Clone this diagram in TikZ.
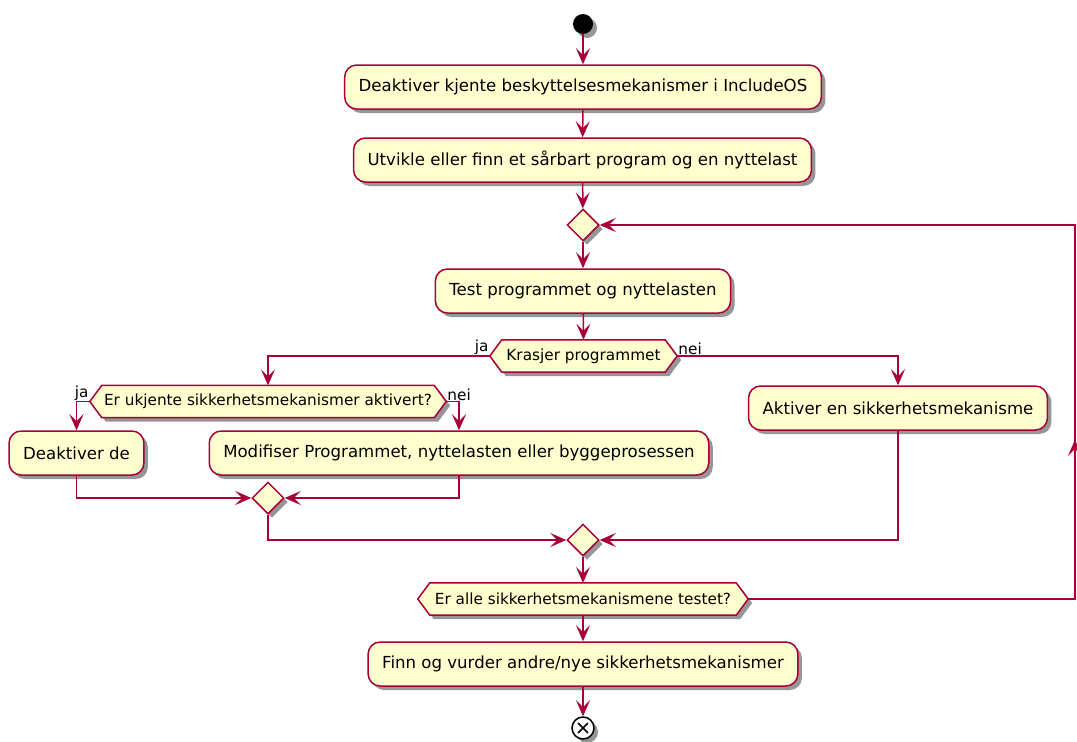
\documentclass[tikz,border=0pt]{standalone}
\usepackage{fontspec}
\setmainfont{DejaVu Sans}
\usetikzlibrary{arrows.meta,shapes.geometric,shadows,calc,decorations.markings}
\definecolor{umlfill}{HTML}{FEFECE}
\definecolor{umlline}{HTML}{A80036}
\pgfdeclarelayer{bg}
\pgfsetlayers{bg,main}

\tikzset{
  x=1pt, y=-1pt,
  shade/.style={drop shadow={shadow xshift=4pt, shadow yshift=-4pt, opacity=0.55, fill=black!75}},
  tipstyle/.style={-{Stealth[length=16pt, width=14pt, inset=7pt]}},
  flow/.style={draw=umlline, line width=1.5pt},
  arr/.style={flow, tipstyle},
  actbox/.style={draw=umlline, line width=1.5pt, fill=umlfill, rounded corners=12pt,
    minimum height=44pt, inner xsep=14pt, font=\fontsize{16.6}{20}\selectfont, shade},
  hextext/.style={inner sep=0pt, minimum height=32pt, font=\fontsize{15.3}{18}\selectfont},
  hexline/.style={draw=umlline, line width=1.5pt, fill=umlfill, shade},
  merge/.style={diamond, draw=umlline, line width=1.5pt, fill=umlfill, inner sep=0pt,
    minimum width=32pt, minimum height=32pt, shade},
  lbl/.style={inner sep=1pt, font=\fontsize{15.3}{18}\selectfont},
}

\begin{document}
\begin{tikzpicture}
\useasboundingbox (0,0) rectangle (1077,742);

% start and end markers
\node[circle, fill=black, minimum size=20pt, inner sep=0pt, shade] (start) at (583,24) {};
\node[circle, draw=black, line width=1.5pt, fill=white, minimum size=22pt, inner sep=0pt, shade,
  path picture={
    \draw[line width=1.6pt] ($(path picture bounding box.center)+(45:7pt)$) -- ($(path picture bounding box.center)+(225:7pt)$);
    \draw[line width=1.6pt] ($(path picture bounding box.center)+(135:7pt)$) -- ($(path picture bounding box.center)+(315:7pt)$);
  }] (stop) at (583,728) {};

% actions
\node[actbox] (b1) at (583,87) {Deaktiver kjente beskyttelsesmekanismer i IncludeOS};
\node[actbox] (b2) at (582.5,160) {Utvikle eller finn et sårbart program og en nyttelast};
\node[actbox] (b3) at (583,291) {Test programmet og nyttelasten};
\node[actbox] (b4) at (76.5,453) {Deaktiver de};
\node[actbox] (b5) at (459,453) {Modifiser Programmet, nyttelasten eller byggeprosessen};
\node[actbox] (b6) at (898,408) {Aktiver en sikkerhetsmekanisme};
\node[actbox] (b7) at (583,664) {Finn og vurder andre/nye sikkerhetsmekanismer};

% merge points
\node[merge] (d1) at (583,225) {};
\node[merge] (d2) at (268,498) {};
\node[merge] (d3) at (583,540) {};

% decisions (text part; hexagon outline drawn behind)
\node[hextext, minimum width=163pt] (k1) at (583.5,356) {Krasjer programmet};
\node[hextext, minimum width=332pt] (k2) at (268,401.5) {Er ukjente sikkerhetsmekanismer aktivert?};
\node[hextext, minimum width=306pt] (k3) at (583,599) {Er alle sikkerhetsmekanismene testet?};
\foreach \n in {k1,k2,k3} {
  \coordinate (\n-l) at ($(\n.west)+(-12pt,0pt)$);
  \coordinate (\n-r) at ($(\n.east)+(12pt,0pt)$);
}
\begin{pgfonlayer}{bg}
  \foreach \n in {k1,k2,k3}
    \draw[hexline] (\n.north west) -- (\n-l) -- (\n.south west) -- (\n.south east) -- (\n-r) -- (\n.north east) -- cycle;
\end{pgfonlayer}

% branch labels
\node[lbl, anchor=south east] (ja1) at (k1-l) {ja};
\node[lbl, anchor=south west] (nei1) at (k1-r) {nei};
\node[lbl, anchor=south east] (ja2) at (k2-l) {ja};
\node[lbl, anchor=south west] (nei2) at (k2-r) {nei};

% main flow
\draw[arr] (start) -- (b1);
\draw[arr] (b1) -- (b2);
\draw[arr] (b2) -- (d1);
\draw[arr] (d1) -- (b3);
\draw[arr] (b3) -- (k1.north);
\draw[arr] (k1-l) -| (k2.north);
\draw[arr] (k1-r) -| (b6.north);
\draw[arr] (k2-l) -| (b4.north);
\draw[arr] (k2-r) -| (b5.north);
\draw[arr] (b4.south) |- (d2.west);
\draw[arr] (b5.south) |- (d2.east);
\draw[arr] (d2.south) |- (d3.west);
\draw[arr] (b6.south) |- (d3.east);
\draw[arr] (d3) -- (k3.north);
\draw[arr] (k3.south) -- (b7);
\draw[arr] (b7) -- (stop);

% loop back to the first merge point
\coordinate (loop) at (1075,225);
\draw[arr, postaction={decorate}, decoration={markings,
    mark=at position 486pt with {\arrow{Stealth[length=16pt, width=14pt, inset=7pt]}}}]
  (k3-r) -| (loop) -- (d1.east);
\end{tikzpicture}
\end{document}
